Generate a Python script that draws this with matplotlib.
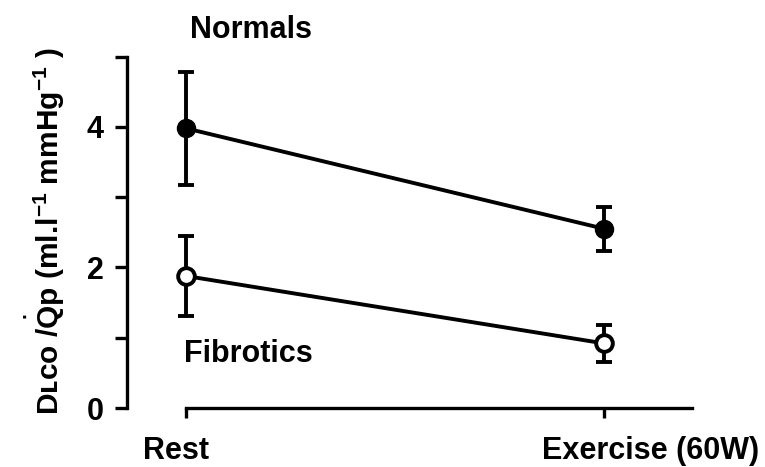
import matplotlib
matplotlib.use("Agg")
import matplotlib.pyplot as plt

plt.rcParams['font.family'] = ['Liberation Sans', 'DejaVu Sans']
plt.rcParams['font.weight'] = 'bold'
plt.rcParams['axes.labelweight'] = 'bold'
plt.rcParams['mathtext.fontset'] = 'custom'
plt.rcParams['mathtext.rm'] = 'Liberation Sans:bold'
plt.rcParams['mathtext.it'] = 'Liberation Sans:bold'
plt.rcParams['mathtext.bf'] = 'Liberation Sans:bold'

# conditions on the x axis
conditions = ['Rest', 'Exercise (60W)']
x_pos = [0, 1]

# DLCO/Qp means and error bars
normals = [3.98, 2.55]
normals_err = [0.80, 0.31]
fibrotics = [1.88, 0.92]
fibrotics_err = [0.57, 0.26]

fig = plt.figure(figsize=(7.65, 4.67), dpi=100)
ax = fig.add_axes([0.166, 0.126, 0.739, 0.756])

# normals: filled circles
ax.errorbar(x_pos, normals, yerr=normals_err, color='black', lw=2.8,
            marker='o', ms=13, mfc='black', mec='black',
            capsize=6, capthick=2.8, elinewidth=2.8, zorder=3)
# fibrotics: open circles
ax.errorbar(x_pos, fibrotics, yerr=fibrotics_err, color='black', lw=2.8,
            marker='o', ms=12, mfc='white', mec='black', mew=2.8,
            capsize=6, capthick=2.8, elinewidth=2.8, zorder=3)

ax.text(0.01, 5.37, 'Normals', fontsize=22, ha='left', va='center', clip_on=False)
ax.text(-0.005, 0.77, 'Fibrotics', fontsize=22, ha='left', va='center')

ax.set_xlim(-0.14, 1.21)
ax.set_ylim(0, 5.02)

for s in ['top', 'right']:
    ax.spines[s].set_visible(False)
ax.spines['left'].set_bounds(0, 5)
ax.spines['bottom'].set_bounds(0, 1.21)
ax.spines['left'].set_linewidth(2.4)
ax.spines['bottom'].set_linewidth(2.4)

ax.set_yticks([0, 2, 4])
ax.set_yticks([1, 3, 5], minor=True)
ax.tick_params(axis='y', which='both', length=9, width=2.4, labelsize=22, pad=8)
ax.set_xticks(x_pos)
ax.set_xticklabels([])
ax.tick_params(axis='x', length=7, width=2.4)

# x labels sit a little off their ticks, as in the original figure
ax.text(x_pos[0] - 0.024, -0.40, conditions[0], fontsize=22, ha='center', va='top')
ax.text(x_pos[1] + 0.11, -0.40, conditions[1], fontsize=22, ha='center', va='top')

ax.set_ylabel('D\u029f\u1d04\u1d0f /$\\overset{\\bullet}{\\mathrm{Q}}$p (ml.l$^{-1}$ mmHg$^{-1}$ )',
              fontsize=21.5, labelpad=14)

fig.savefig('out.png', dpi=100)
